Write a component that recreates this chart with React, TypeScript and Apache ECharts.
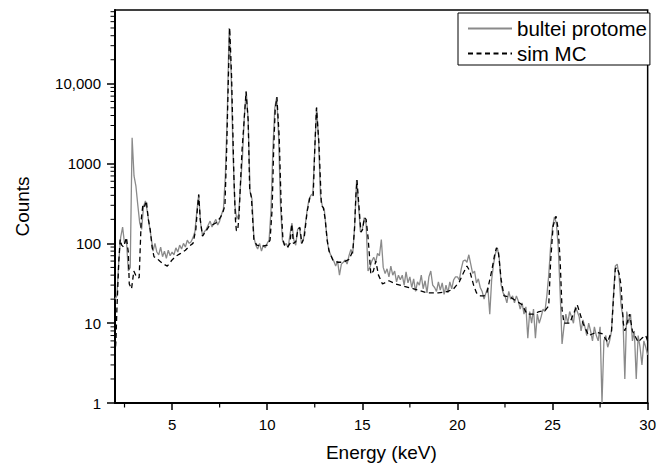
import { useEffect, useRef } from "react";
import * as echarts from "echarts";

// Measured spectrum: counts sampled every 0.1 keV from 2.0 keV to 30.0 keV
const energyStart = 2.0;
const energyStep = 0.1;
const measuredCounts: number[] = [
  // 2.0 - 2.9
  20, 22, 60, 120, 160, 100, 110, 45, 50, 2100,
  // 3.0 - 3.9
  700, 520, 300, 180, 150, 290, 340, 250, 170, 120,
  // 4.0 - 4.9
  80, 100, 78, 72, 90, 68, 80, 65, 82, 70,
  // 5.0 - 5.9
  78, 72, 88, 78, 95, 85, 100, 90, 110, 100,
  // 6.0 - 6.9
  105, 118, 140, 250, 410, 180, 125, 140, 150, 170,
  // 7.0 - 7.9
  190, 160, 180, 200, 170, 190, 230, 270, 700, 4000,
  // 8.0 - 8.9
  50000, 15000, 1500, 300, 200, 230, 550, 1200, 4000, 8000,
  // 9.0 - 9.9
  3500, 450, 360, 120, 95, 85, 100, 80, 95, 88,
  // 10.0 - 10.9
  100, 110, 260, 1500, 5000, 6800, 2200, 300, 110, 95,
  // 11.0 - 11.9
  100, 88, 130, 180, 110, 95, 150, 160, 100, 110,
  // 12.0 - 12.9
  170, 260, 360, 400, 420, 1500, 5100, 2000, 400, 290,
  // 13.0 - 13.9
  270, 150, 93, 75, 67, 60, 52, 60, 40, 55,
  // 14.0 - 14.9
  58, 62, 55, 70, 84, 75, 170, 620, 300, 140,
  // 15.0 - 15.9
  150, 210, 175, 45, 50, 60, 67, 58, 75, 70,
  // 16.0 - 16.9
  112, 50, 42, 48, 38, 52, 40, 45, 33, 40,
  // 17.0 - 17.9
  35, 40, 30, 44, 32, 38, 28, 36, 25, 33,
  // 18.0 - 18.9
  30, 40, 27, 34, 24, 38, 45, 30, 28, 25,
  // 19.0 - 19.9
  33, 26, 32, 23, 30, 24, 33, 27, 35, 38,
  // 20.0 - 20.9
  38, 35, 48, 60, 62, 58, 72, 55, 42, 45,
  // 21.0 - 21.9
  32, 36, 28, 25, 20, 24, 28, 13, 35, 55,
  // 22.0 - 22.9
  75, 88, 65, 30, 24, 22, 18, 25, 20, 22,
  // 23.0 - 23.9
  18, 22, 19, 15, 18, 13, 16, 6.5, 14, 10,
  // 24.0 - 24.9
  15, 6.5, 13, 10, 12, 15, 14, 22, 40, 92,
  // 25.0 - 25.9
  160, 215, 180, 90, 24, 5.5, 9, 13, 10, 14,
  // 26.0 - 26.9
  12, 10, 16, 14, 12, 8, 11, 9, 7, 10,
  // 27.0 - 27.9
  8, 6, 9, 7, 6, 9, 1, 6, 7, 5,
  // 28.0 - 28.9
  6, 8, 22, 52, 55, 38, 17, 12, 2, 14,
  // 29.0 - 29.9
  10, 13, 6, 8, 2, 7, 5, 3, 6, 5,
  // 30.0
  4,
];

// Monte Carlo simulation: [energy keV, counts]
const simulatedSpectrum: [number, number][] = [
  [2.0, 4], [2.05, 6], [2.1, 15], [2.2, 60], [2.27, 112], [2.35, 95], [2.45, 90],
  [2.6, 119], [2.7, 77], [2.75, 31], [2.87, 27], [2.99, 45], [3.13, 38], [3.27, 37],
  [3.38, 200], [3.47, 310], [3.55, 290], [3.65, 340], [3.75, 200], [3.85, 150],
  [3.95, 90], [4.05, 68], [4.2, 65], [4.35, 60], [4.55, 55], [4.75, 52], [5.0, 62],
  [5.2, 69], [5.45, 75], [5.7, 82], [5.9, 92], [6.1, 100], [6.25, 150], [6.32, 250],
  [6.4, 410], [6.48, 200], [6.6, 123], [6.8, 145], [6.95, 165], [7.1, 170], [7.3, 180],
  [7.5, 205], [7.65, 235], [7.78, 300], [7.87, 1500], [7.96, 12000], [8.03, 50000],
  [8.13, 12000], [8.25, 690], [8.33, 200], [8.38, 145], [8.45, 145], [8.52, 220],
  [8.6, 600], [8.68, 1500], [8.77, 3000], [8.89, 8000], [9.0, 3500], [9.08, 470],
  [9.17, 380], [9.3, 112], [9.45, 95], [9.7, 92], [10.0, 95], [10.15, 110], [10.26, 270],
  [10.34, 1500], [10.42, 4700], [10.51, 6800], [10.63, 2200], [10.74, 270], [10.83, 110],
  [10.95, 90], [11.1, 92], [11.2, 100], [11.29, 175], [11.38, 100], [11.5, 105],
  [11.62, 150], [11.72, 158], [11.82, 100], [11.95, 120], [12.1, 250], [12.25, 380],
  [12.42, 400], [12.5, 1500], [12.59, 5000], [12.72, 1800], [12.85, 300], [12.95, 280],
  [13.05, 200], [13.15, 110], [13.25, 80], [13.45, 62], [13.7, 58], [14.0, 58],
  [14.3, 63], [14.5, 80], [14.59, 150], [14.66, 390], [14.72, 620], [14.85, 240],
  [14.93, 138], [15.02, 150], [15.11, 210], [15.2, 200], [15.3, 120], [15.45, 41],
  [15.58, 45], [15.71, 60], [15.85, 40], [16.06, 31], [16.4, 34], [16.75, 31],
  [17.2, 29], [17.7, 27], [18.4, 24], [19.0, 24], [19.5, 25], [19.8, 27], [20.1, 33],
  [20.3, 42], [20.5, 52], [20.65, 45], [20.85, 30], [21.0, 24], [21.2, 22], [21.4, 22],
  [21.55, 24], [21.8, 45], [21.97, 75], [22.05, 88], [22.15, 80], [22.3, 35],
  [22.45, 22], [22.8, 21], [23.1, 19], [23.4, 17], [23.66, 13], [24.0, 13], [24.3, 14],
  [24.6, 14.3], [24.8, 16.5], [24.9, 60], [25.03, 165], [25.18, 219], [25.3, 150],
  [25.4, 60], [25.5, 15], [25.6, 10], [25.9, 10], [26.3, 17], [26.6, 10], [26.9, 7],
  [27.3, 7.7], [27.6, 7.4], [27.9, 5.8], [28.1, 8], [28.2, 20], [28.3, 48], [28.39, 50],
  [28.5, 42], [28.6, 30], [28.72, 10], [28.8, 8], [29.05, 13], [29.2, 8], [29.5, 5.8],
  [29.7, 6.5], [29.9, 7], [30.0, 6],
];

const seriesNames = ["bultei protome", "sim MC"];
const xMajorTicks = [5, 10, 15, 20, 25, 30];
const xMinorTicks = [2.5, 7.5, 12.5, 17.5, 22.5, 27.5];
const yMajorTicks = [1, 10, 100, 1000, 10000];
const yMinorTicks = [
  2, 3, 4, 5, 6, 7, 8, 9,
  20, 30, 40, 50, 60, 70, 80, 90,
  200, 300, 400, 500, 600, 700, 800, 900,
  2000, 3000, 4000, 5000, 6000, 7000, 8000, 9000,
  20000, 30000, 40000, 50000, 60000, 70000, 80000,
];
const X_MIN = 2;
const X_MAX = 30;
const Y_MIN = 1;
const Y_MAX = 84000;

const FONT = "'Liberation Sans', Arial, sans-serif";

export default function App() {
  const ref = useRef<HTMLDivElement>(null);

  useEffect(() => {
    if (!ref.current) return;
    const chart = echarts.init(ref.current, undefined, { renderer: "svg" });

    const measuredData = measuredCounts.map((c, i) => [
      Math.round((energyStart + i * energyStep) * 100) / 100,
      c,
    ]);

    const tickLine = { color: "#000", width: 1.5 };

    const option: any = {
      animation: false,
      backgroundColor: "#fff",
      textStyle: { fontFamily: FONT },
      grid: {
        left: 115,
        right: 7,
        top: 10,
        bottom: 63,
        show: true,
        borderColor: "#000",
        borderWidth: 1.5,
        backgroundColor: "transparent",
      },
      legend: {
        orient: "vertical",
        left: 458,
        top: 13,
        backgroundColor: "#fff",
        borderColor: "#000",
        borderWidth: 1,
        borderRadius: 0,
        padding: [5, 3, 1, 9],
        itemGap: 4,
        itemWidth: 44,
        itemHeight: 14,
        itemStyle: { opacity: 0 },
        textStyle: { fontSize: 20.5, color: "#000", fontFamily: FONT, lineHeight: 20 },
        data: seriesNames,
      },
      xAxis: {
        type: "value",
        min: X_MIN,
        max: X_MAX,
        position: "bottom",
        name: "Energy (keV)",
        nameLocation: "middle",
        nameGap: 40,
        nameTextStyle: { fontSize: 19, color: "#000", fontFamily: FONT },
        axisLine: { show: true, onZero: false, lineStyle: { color: "#000", width: 2 } },
        axisTick: { show: true, customValues: xMajorTicks, length: 7, lineStyle: tickLine },
        axisLabel: { customValues: xMajorTicks, fontSize: 15, color: "#000", margin: 14, fontFamily: FONT },
        splitLine: { show: false },
      },
      yAxis: {
        type: "log",
        logBase: 10,
        min: Y_MIN,
        max: Y_MAX,
        position: "left",
        name: "Counts",
        nameLocation: "middle",
        nameGap: 83,
        nameTextStyle: { fontSize: 19, color: "#000", fontFamily: FONT },
        axisLine: { show: true, onZero: false, lineStyle: { color: "#000", width: 2 } },
        axisTick: { show: true, customValues: yMajorTicks, length: 8, lineStyle: tickLine },
        axisLabel: {
          customValues: yMajorTicks,
          fontSize: 15,
          color: "#000",
          margin: 14,
          fontFamily: FONT,
          formatter: (v: number) => (v >= 10000 ? "10,000" : String(Math.round(v))),
        },
        splitLine: { show: false },
      },
      series: [
        {
          name: seriesNames[0],
          type: "line",
          data: measuredData,
          symbol: "none",
          showSymbol: false,
          silent: true,
          lineStyle: { color: "#8a8a8a", width: 1.3 },
          itemStyle: { color: "#8a8a8a" },
        },
        {
          name: seriesNames[1],
          type: "line",
          data: simulatedSpectrum,
          symbol: "none",
          showSymbol: false,
          silent: true,
          lineStyle: { color: "#000", width: 1.3, type: [5, 3.5] },
          itemStyle: { color: "#000" },
        },
        {
          // minor ticks of the log y axis (outside, left)
          name: "yMinorTicks",
          type: "custom",
          silent: true,
          clip: false,
          data: yMinorTicks.map((v) => [X_MIN, v]),
          renderItem: (_p: any, api: any) => {
            const pt = api.coord([api.value(0), api.value(1)]);
            return {
              type: "line",
              shape: { x1: pt[0] - 4.5, y1: pt[1], x2: pt[0], y2: pt[1] },
              style: { stroke: "#000", lineWidth: 1 },
            };
          },
        },
        {
          // minor ticks of the x axis (outside, below)
          name: "xMinorTicks",
          type: "custom",
          silent: true,
          clip: false,
          data: xMinorTicks.map((v) => [v, Y_MIN]),
          renderItem: (_p: any, api: any) => {
            const pt = api.coord([api.value(0), api.value(1)]);
            return {
              type: "line",
              shape: { x1: pt[0], y1: pt[1], x2: pt[0], y2: pt[1] + 4.5 },
              style: { stroke: "#000", lineWidth: 1.2 },
            };
          },
        },
      ],
    };

    chart.setOption(option);
    return () => chart.dispose();
  }, []);

  return (
    <div
      ref={ref}
      style={{ position: "fixed", left: 0, top: 0, width: 659, height: 467, background: "#fff" }}
    />
  );
}
